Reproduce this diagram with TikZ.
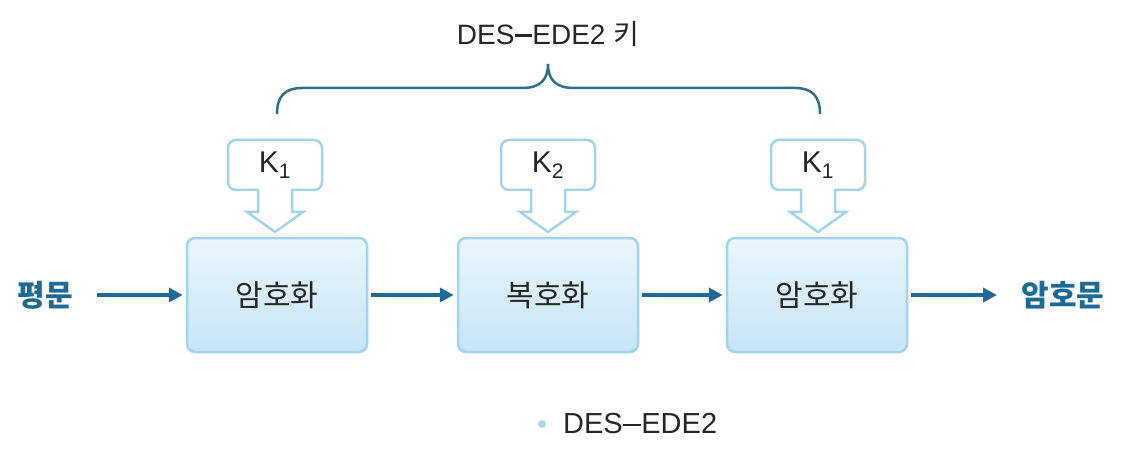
\documentclass[tikz,border=0pt]{standalone}
\usepackage{fontspec}
\setmainfont{Liberation Sans}
\newfontfamily\kr{Noto Sans CJK KR}
\usetikzlibrary{arrows.meta}
\definecolor{boxline}{HTML}{A3D4EF}
\definecolor{boxtop}{HTML}{EAF6FC}
\definecolor{boxbot}{HTML}{C6E5F6}
\definecolor{arrowc}{HTML}{1D6A96}
\definecolor{bracec}{HTML}{2D6F8C}
\definecolor{txt}{HTML}{262626}
\definecolor{dotc}{HTML}{A8D8E4}
\newcommand{\desdash}{\kern0.01em\rule[0.26em]{0.62em}{0.1em}\kern0.01em}
\tikzset{
  procbox/.style={draw=boxline, line width=2.5pt, rounded corners=8pt,
    top color=boxtop, bottom color=boxbot, minimum width=180pt, minimum height=114pt,
    font=\kr\fontsize{30}{34}\selectfont, text=txt},
  flow/.style={draw=arrowc, line width=4pt, -{Triangle[length=14pt,width=14pt]}},
  keylbl/.style={font=\fontsize{30}{34}\selectfont, text=txt, inner sep=0pt},
  keyshape/.style={draw=boxline, line width=2.5pt, fill=white, line join=miter},
  endlbl/.style={font=\kr\bfseries\fontsize{30}{34}\selectfont, text=arrowc},
}
\newcommand{\keyarrow}[1]{%
  \path[keyshape] ([xshift=-17pt,yshift=-25pt]#1.center)
    [rounded corners=8pt] -- ([xshift=-47pt,yshift=-25pt]#1.center)
    -- ([xshift=-47pt,yshift=25pt]#1.center)
    -- ([xshift=47pt,yshift=25pt]#1.center)
    -- ([xshift=47pt,yshift=-25pt]#1.center)
    [sharp corners] -- ([xshift=17pt,yshift=-25pt]#1.center)
    -- ([xshift=17pt,yshift=-47pt]#1.center)
    -- ([xshift=28pt,yshift=-47pt]#1.center)
    -- ([xshift=0pt,yshift=-67pt]#1.center)
    -- ([xshift=-28pt,yshift=-47pt]#1.center)
    -- ([xshift=-17pt,yshift=-47pt]#1.center) -- cycle;}
\begin{document}
\begin{tikzpicture}[x=1pt,y=-1pt]
\useasboundingbox[fill=white] (0,0) rectangle (1132,465);
% key anchors
\coordinate (k1c) at (275,165);
\coordinate (k2c) at (548,165);
\coordinate (k3c) at (818,165);
\keyarrow{k1c}
\keyarrow{k2c}
\keyarrow{k3c}
\node[keylbl] (k1) at (k1c) {K\textsubscript{1}};
\node[keylbl] (k2) at (k2c) {K\textsubscript{2}};
\node[keylbl] (k3) at (k3c) {K\textsubscript{1}};
% boxes
\node[procbox] (e1) at (277,295) {암호화};
\node[procbox] (d2) at (548,295) {복호화};
\node[procbox] (e3) at (817,295) {암호화};
% end labels
\node[endlbl] (pt) at (45,295) {평문};
\node[endlbl] (ct) at (1063,295) {암호문};
\coordinate (ptend) at (97,295);
\coordinate (ctend) at (997,295);
\draw[flow] (ptend) -- ([xshift=-3pt]e1.west);
\draw[flow] ([xshift=3pt]e1.east) -- ([xshift=-3pt]d2.west);
\draw[flow] ([xshift=3pt]d2.east) -- ([xshift=-3pt]e3.west);
\draw[flow] ([xshift=3pt]e3.east) -- (ctend);
% brace
\coordinate (bl) at (277,114);
\coordinate (br) at (820,114);
\coordinate (bt) at (548,64);
\draw[bracec, line width=2.5pt] (bl) .. controls (277,96) and (285,88) .. (302,88)
  -- (522,88) .. controls (540,88) and (548,80) .. (bt)
  .. controls (548,80) and (556,88) .. (574,88)
  -- (795,88) .. controls (812,88) and (820,96) .. (br);
\node[font=\fontsize{28}{32}\selectfont, text=txt] (title) at (548,34) {DES\desdash EDE2 {\kr 키}};
% caption
\fill[dotc] (542,424) circle (4pt);
\node[font=\fontsize{29}{33}\selectfont, text=txt, anchor=west, inner sep=0pt] (cap) at (563,424) {DES\desdash EDE2};
\end{tikzpicture}
\end{document}
